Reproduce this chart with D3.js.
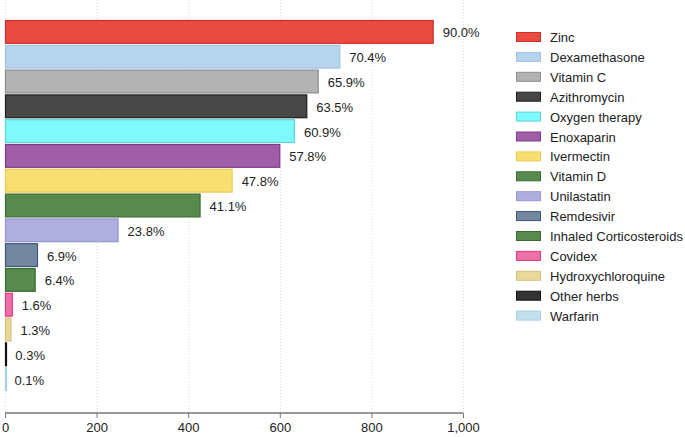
<!DOCTYPE html>
<html><head><meta charset="utf-8">
<script src="https://cdn.jsdelivr.net/npm/d3@7"></script>
<style>
html,body{margin:0;padding:0;background:#fff;}
svg{display:block;font-family:"Liberation Sans",Arial,Helvetica,sans-serif;}
</style></head>
<body><svg id="chart" width="685" height="437"></svg>
<script>
const categories = ["Zinc","Dexamethasone","Vitamin C","Azithromycin","Oxygen therapy","Enoxaparin","Ivermectin","Vitamin D","Unilastatin","Remdesivir","Inhaled Corticosteroids","Covidex","Hydroxychloroquine","Other herbs","Warfarin"];
const counts = [936,732,685,660,633,601,497,427,248,72,67,17,14,3,1];
const percentLabels = ["90.0%","70.4%","65.9%","63.5%","60.9%","57.8%","47.8%","41.1%","23.8%","6.9%","6.4%","1.6%","1.3%","0.3%","0.1%"];
const fills = ["#e94a41","#b6d4ec","#b3b3b3","#474747","#7ffafd","#a05ea8","#f8df72","#578a4c","#afafdf","#7388a0","#578a4c","#ef6fa8","#e9d89c","#333333","#c3e1ec"];
const strokes = ["#cf3129","#9fc4e6","#8e8e8e","#1e1e1e","#5ad3d8","#7f3b8a","#ebca50","#3b6c32","#9696d4","#3e5778","#3b6c32","#df3a7f","#d6c17c","#111111","#a9d0e2"];
const xTicks = [0,200,400,600,800,1000];

const svg = d3.select("#chart");
const x = d3.scaleLinear().domain([0,1000]).range([5,463]);
const y = d3.scaleBand().domain(categories).range([20,391]).paddingInner(0.04).paddingOuter(0);
const axisY = 413;

// grid
svg.append("g").selectAll("line").data(xTicks).join("line")
  .attr("x1",d=>x(d)+0.5).attr("x2",d=>x(d)+0.5)
  .attr("y1",0).attr("y2",axisY)
  .attr("stroke","#d6d6d6").attr("stroke-width",1).attr("stroke-dasharray","1,2");

// bars
svg.append("g").selectAll("rect").data(categories).join("rect")
  .attr("x",x(0)+0.5)
  .attr("y",d=>y(d)+0.5)
  .attr("width",(d,i)=>Math.max(x(counts[i])-x(0)-1,1))
  .attr("height",y.bandwidth()-1)
  .attr("fill",(d,i)=>fills[i])
  .attr("stroke",(d,i)=>strokes[i])
  .attr("stroke-width",1.2);

// value labels
svg.append("g").selectAll("text").data(categories).join("text")
  .attr("x",(d,i)=>x(counts[i])+9)
  .attr("y",d=>y(d)+y.bandwidth()/2+1)
  .attr("dy","0.35em")
  .attr("font-size",13)
  .attr("fill","#222")
  .text((d,i)=>percentLabels[i]);

// axis
const axis = d3.axisBottom(x).tickValues(xTicks).tickSize(5).tickPadding(5).tickFormat(d3.format(","));
const ag = svg.append("g").attr("transform",`translate(0,${axisY})`).call(axis);
ag.select(".domain").attr("stroke","#777").attr("stroke-width",1.5).attr("d",`M${x(0)},0H${x(1000)}`);
ag.selectAll(".tick line").attr("stroke","#777");
ag.selectAll(".tick text").attr("font-size",13).attr("fill","#222").attr("font-family","Liberation Sans, Arial, sans-serif");

// legend
const lg = svg.append("g").attr("transform","translate(516,37)");
const rows = lg.selectAll("g").data(categories).join("g")
  .attr("transform",(d,i)=>`translate(0,${i*19.9})`);
rows.append("rect").attr("x",0.5).attr("y",-4.5).attr("width",24).attr("height",9)
  .attr("fill",(d,i)=>fills[i]).attr("stroke",(d,i)=>strokes[i]).attr("stroke-width",1);
rows.append("text").attr("x",34).attr("y",0.5).attr("dy","0.35em")
  .attr("font-size",13).attr("fill","#222").text(d=>d);
</script></body></html>
